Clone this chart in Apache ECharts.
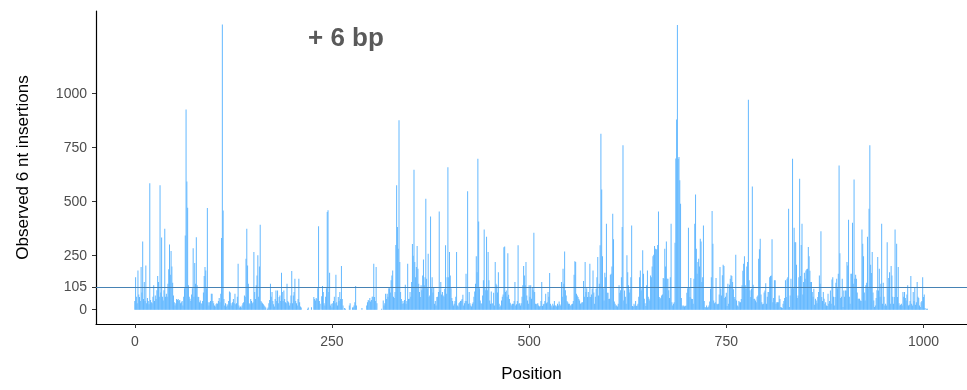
<!DOCTYPE html>
<html>
<head>
<meta charset="utf-8">
<script src="https://cdn.jsdelivr.net/npm/echarts@6/dist/echarts.min.js"></script>
<style>html,body{margin:0;padding:0;background:#fff}#c{width:967px;height:390px}</style>
</head>
<body>
<div id="c"></div>
<script>
// Observed 6 nt insertions per position, positions 0..1005 in blocks of 50
const pos0 = [40,151,60,30,182,70,59,40,198,80, 316,50,128,40,205,30,54,40,25,586, 45,35,30,60,113,40,66,50,90,156, 128,60,576,80,335,60,43,90,375,60, 74,60,120,187,302,162,272,200,125,66];
const pos50 = [35,20,30,50,45,50,40,45,30,35, 40,20,60,100,344,927,594,472,113,60, 51,40,70,100,285,60,216,120,336,113, 60,59,35,43,30,28,40,80,156,198, 182,100,471,35,20,35,40,74,74,40];
const pos100 = [30,20,15,25,30,28,40,54,35,74, 332,1320,460,50,20,30,15,25,20,40, 85,80,30,20,35,50,30,74,25,30, 60,213,20,10,15,10,20,30,35,66, 60,236,375,205,120,30,25,50,40,30];
const pos150 = [35,267,82,50,113,159,252,60,200,394, 40,35,30,25,20,15,10,0,5,10, 30,45,120,60,82,40,25,15,50,89, 40,89,30,59,66,40,171,82,40,89, 50,35,30,120,40,35,20,30,66,179];
const pos200 = [30,66,82,143,40,30,20,50,143,35, 15,10,0,0,0,0,0,0,0,5, 10,0,0,0,12,0,0,59,50,43, 54,50,100,387,40,28,0,62,110,82, 30,20,60,100,452,461,82,171,20,28];
const pos250 = [10,30,40,60,30,162,35,20,59,40, 82,50,202,50,20,0,8,5,0,0, 0,0,20,30,0,0,10,12,20,35, 110,20,0,0,0,0,0,0,8,0, 0,0,0,0,20,35,45,40,54,38];
const pos300 = [45,60,60,213,59,40,198,30,0,0, 0,0,0,5,0,43,20,30,74,50, 74,60,100,100,80,136,159,182,60,54, 82,300,576,383,282,877,221,82,50,28, 40,30,45,116,28,40,213,50,51,82];
const pos350 = [60,128,304,250,648,221,150,198,295,190, 120,82,59,113,90,159,233,113,150,514, 143,100,259,60,66,432,100,151,80,105, 28,40,20,59,60,82,455,90,128,70, 82,66,60,97,298,74,150,660,150,267];
const pos400 = [159,100,54,40,20,28,40,60,267,20, 15,30,35,40,43,50,69,20,30,40, 167,40,549,28,82,30,20,15,28,35, 60,85,120,248,174,699,409,100,43,30, 28,66,136,372,105,90,338,90,267,136];
const pos450 = [43,28,85,28,30,79,20,221,120,113, 80,174,28,13,20,43,60,70,289,293, 82,89,60,262,69,50,32,25,20,28, 28,40,128,20,25,40,298,28,30,20, 30,60,113,202,159,113,221,66,43,28];
const pos500 = [113,60,113,51,105,90,356,82,28,25, 28,30,20,15,17,40,128,17,25,28, 40,74,30,35,82,60,170,28,20,10, 28,20,40,20,20,15,28,20,38,25, 20,128,60,190,120,270,90,66,40,35];
const pos550 = [28,28,20,20,25,28,40,162,225,221, 74,66,59,50,43,28,30,35,35,133, 60,221,82,100,59,82,60,213,59,70, 97,182,80,28,60,97,151,244,66,120, 298,815,557,248,100,43,171,150,398,79];
const pos600 = [79,50,51,162,167,200,444,326,38,28, 20,20,15,28,113,79,90,151,383,761, 43,89,60,28,252,174,113,80,95,150, 390,17,15,28,20,40,17,20,28,60, 151,182,89,100,275,167,51,30,17,113];
const pos650 = [182,60,51,43,159,151,200,248,255,295, 282,279,280,300,455,59,51,55,66,70, 147,143,282,200,316,143,143,90,54,150, 398,35,20,28,35,310,700,881,1318,699, 707,600,491,54,20,15,20,15,17,20];
const pos700 = [79,100,380,105,59,147,51,50,28,143, 398,534,282,167,221,236,200,329,316,128, 150,390,40,13,10,20,10,13,20,38, 97,150,457,306,43,30,35,147,28,25, 28,70,198,97,66,160,208,202,54,60];
const pos750 = [79,17,120,28,116,143,160,156,128,95, 59,50,255,43,20,15,40,35,35,50, 113,180,213,248,113,97,200,221,972,136, 90,59,97,571,116,50,51,43,35,60, 66,236,280,329,70,35,25,28,80,89];
const pos800 = [123,28,60,82,82,150,156,159,326,35, 54,136,136,28,35,35,35,66,50,13, 10,8,28,40,54,136,59,143,151,468, 13,66,143,100,699,100,380,313,313,208, 54,66,150,606,156,300,398,70,128,171];
const pos850 = [143,182,187,190,290,248,180,128,128,82, 60,97,23,51,43,30,59,82,159,120, 363,59,40,82,51,28,35,20,17,74, 28,40,89,28,140,151,60,20,59,125, 143,100,167,668,262,54,60,143,13,89];
const pos900 = [60,89,89,221,205,417,60,28,167,167, 403,120,603,143,162,143,80,51,51,51, 43,40,372,306,248,80,43,113,125,338, 100,468,761,208,170,267,80,43,13,20, 54,90,244,89,190,60,120,398,28,125];
const pos950 = [60,20,28,20,313,100,147,174,28,202, 159,60,28,59,372,100,306,59,198,30, 20,23,28,20,82,60,82,54,43,70, 113,20,23,40,156,28,20,82,40,105, 23,35,128,60,54,20,13,35,40,151, 59,70,8,0,5,5];

const blocks = [pos0,pos50,pos100,pos150,pos200,pos250,pos300,pos350,pos400,pos450,
                pos500,pos550,pos600,pos650,pos700,pos750,pos800,pos850,pos900,pos950];
const threshold = 105;
const yTicks = [0, 105, 250, 500, 750, 1000];
const xTicks = [0, 250, 500, 750, 1000];
const annotationText = '+ 6 bp';

const data = [];
blocks.forEach((b, bi) => b.forEach((v, i) => data.push([bi * 50 + i, v])));

const chart = echarts.init(document.getElementById('c'), null, {renderer: 'canvas'});
const axisFont = 'Liberation Sans, Arial, sans-serif';
chart.setOption({
  animation: false,
  grid: {left: 96, right: 0, top: 11, bottom: 66},
  graphic: [{
    type: 'text', left: 308, top: 26,
    style: {text: annotationText, fill: '#595959', font: 'bold 26px ' + axisFont}
  }],
  xAxis: {
    type: 'value', min: -49.2, max: 1055.2,
    name: 'Position', nameLocation: 'middle', nameGap: 42,
    nameTextStyle: {color: '#000', fontSize: 17, fontFamily: axisFont},
    axisLine: {show: true, onZero: false, lineStyle: {color: '#000', width: 1.2}},
    axisTick: {show: true, length: 4, lineStyle: {color: '#333'}, customValues: xTicks},
    axisLabel: {color: '#4D4D4D', fontSize: 14, fontFamily: axisFont, margin: 11,
                customValues: xTicks, formatter: v => String(v)},
    splitLine: {show: false}
  },
  yAxis: {
    type: 'value', min: -66, max: 1383,
    name: 'Observed 6 nt insertions', nameLocation: 'middle', nameGap: 64, nameRotate: 90,
    nameTextStyle: {color: '#000', fontSize: 17, fontFamily: axisFont},
    axisLine: {show: true, onZero: false, lineStyle: {color: '#000', width: 1.2}},
    axisTick: {show: true, length: 4, lineStyle: {color: '#333'}, customValues: yTicks},
    axisLabel: {color: '#4D4D4D', fontSize: 14, fontFamily: axisFont, margin: 9,
                customValues: yTicks, formatter: v => String(v)},
    splitLine: {show: false}
  },
  series: [{
    type: 'bar',
    data: data,
    barWidth: 0.8,
    itemStyle: {color: '#63B8FF'},
    silent: true,
    markLine: {
      silent: true, symbol: 'none',
      label: {show: false},
      lineStyle: {color: '#4682B4', width: 1, type: 'solid'},
      data: [{yAxis: threshold}]
    }
  }]
});
</script>
</body>
</html>
